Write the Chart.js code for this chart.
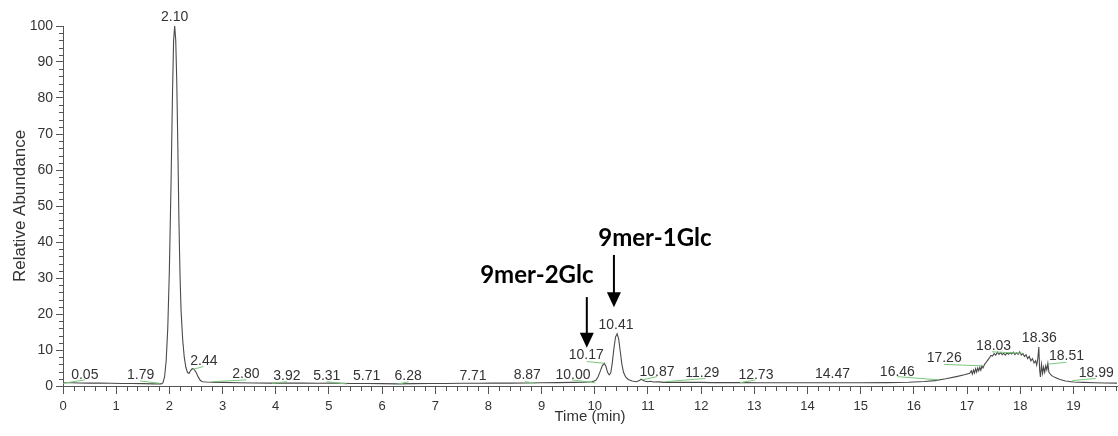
<!DOCTYPE html>
<html><head><meta charset="utf-8">
<script src="https://cdn.jsdelivr.net/npm/chart.js@4/dist/chart.umd.min.js"></script>
<style>html,body{margin:0;padding:0;background:#fff;} #wrap{width:1118px;height:436px;position:relative;}</style>
</head><body><div id="wrap"><canvas id="c" width="1118" height="436"></canvas></div>
<script>
// ---- data (time in min, relative abundance in %) ----
const times = [0.00,0.15,0.30,0.50,0.70,0.90,1.10,1.30,1.50,1.70,1.85,1.88,1.91,1.94,1.97,2.00,2.03,2.06,2.08,2.10,2.12,2.14,2.16,2.18,2.20,2.22,2.25,2.28,2.31,2.34,2.37,2.40,2.43,2.46,2.50,2.54,2.58,2.62,2.70,2.80,3.00,3.30,3.60,3.90,4.20,4.50,4.80,5.10,5.40,5.70,6.00,6.30,6.60,6.90,7.20,7.50,7.80,8.10,8.40,8.70,9.00,9.30,9.60,9.80,9.95,10.02,10.06,10.10,10.14,10.18,10.21,10.24,10.27,10.30,10.33,10.36,10.39,10.42,10.45,10.48,10.51,10.54,10.58,10.63,10.70,10.78,10.84,10.87,10.90,10.95,11.00,11.05,11.10,11.20,11.30,11.40,11.60,11.80,12.00,12.20,12.50,12.80,13.10,13.50,14.00,14.50,15.00,15.50,15.90,16.20,16.40,16.60,16.80,16.95,17.05,17.08,17.10,17.12,17.14,17.16,17.18,17.20,17.22,17.24,17.26,17.28,17.30,17.33,17.36,17.39,17.42,17.45,17.48,17.51,17.54,17.57,17.60,17.63,17.66,17.69,17.72,17.75,17.78,17.81,17.84,17.87,17.90,17.93,17.96,17.99,18.02,18.05,18.08,18.11,18.14,18.17,18.20,18.23,18.26,18.29,18.31,18.33,18.35,18.365,18.38,18.40,18.42,18.44,18.46,18.48,18.50,18.52,18.54,18.57,18.60,18.65,18.70,18.75,18.80,18.85,18.90,18.95,19.00,19.20,19.40,19.60,19.82];
const abundance = [0.9,0.9,0.85,0.8,0.8,0.75,0.7,0.7,0.65,0.6,0.6,0.9,2.5,7,16,32,55,82,96,100,96,84,66,46,31,21,13,8,5.2,3.8,3.5,4.3,4.8,4.7,3.9,2.6,1.6,1.2,1.1,1.05,1.0,0.9,0.85,0.8,0.85,0.8,0.75,0.8,0.7,0.7,0.65,0.6,0.65,0.7,0.7,0.75,0.75,0.8,0.8,0.85,0.9,0.95,1.0,1.05,1.2,1.6,2.5,4.0,5.6,6.3,5.4,3.8,3.1,3.6,6.5,10.5,13.6,14.5,13.0,9.5,6.0,3.8,2.5,1.8,1.4,1.2,1.5,1.9,1.6,1.3,1.2,1.3,1.1,1.15,1.0,1.05,1.0,1.0,1.0,0.95,0.95,0.95,0.9,0.9,0.9,0.9,0.9,0.95,1.05,1.25,1.5,2.0,2.6,3.1,3.5,4.2,3.3,4.4,3.6,4.8,3.9,5.0,4.2,5.2,4.4,5.6,5.0,6.0,6.6,7.2,7.8,8.5,8.3,9.0,8.6,9.4,8.8,9.3,8.7,9.1,8.6,9.2,8.8,9.3,8.9,9.4,8.7,9.2,8.8,9.5,8.6,9.0,8.2,8.7,7.6,8.2,7.0,7.6,6.4,7.0,5.8,7.5,10.8,4.5,2.5,6.0,3.5,5.2,3.8,5.6,4.5,6.3,3.8,3.2,2.8,2.4,2.1,1.8,1.6,1.4,1.3,1.2,1.1,1.0,0.9,0.85,0.8];

// peak retention-time labels and where they sit (time, abundance)
const peakLabels      = ['0.05','1.79','2.10','2.44','2.80','3.92','5.31','5.71','6.28','7.71','8.87','10.00','10.17','10.41','10.87','11.29','12.73','14.47','16.46','17.26','18.03','18.36','18.51','18.99'];
const peakLabelTimes  = [0.41,1.46,2.10,2.65,3.44,4.21,4.96,5.71,6.49,7.71,8.73,9.59,9.84,10.40,11.17,12.02,13.03,14.47,15.69,16.57,17.50,18.36,18.87,19.43];
const peakLabelLevels = [3.1,3.1,102.5,6.9,3.3,2.8,2.8,2.8,2.8,2.8,3.1,3.1,8.6,16.9,3.9,3.6,3.1,3.2,3.9,7.8,11.1,13.3,8.3,3.6];

// green integration baselines
const baseStartTimes  = [0.00,1.45,2.44,2.80,3.93,4.96,6.28,8.69,9.57,9.85,10.89,11.33,12.73,15.69,16.57,17.47,18.54,18.98];
const baseStartLevels = [0.75,1.4,4.6,1.2,0.75,1.2,0.45,1.2,1.7,6.8,1.7,1.2,0.9,2.6,6.0,9.5,6.1,1.5];
const baseEndTimes    = [0.41,1.82,2.64,3.45,4.21,5.34,6.50,8.90,10.01,10.18,11.17,12.08,13.02,16.47,17.28,18.04,18.87,19.42];
const baseEndLevels   = [1.7,0.75,5.4,1.7,1.2,0.55,1.2,0.75,0.9,6.3,2.6,2.1,1.7,1.7,5.6,9.1,6.6,2.1];

// compound annotations
const annotationTexts  = ['9mer-1Glc','9mer-2Glc'];
const annotationTimes  = [11.13, 8.91];
const annotationLevels = [41.1, 30.8];
const arrowTimes       = [10.36, 9.85];
const arrowTopLevels   = [36.4, 24.7];
const arrowTipLevels   = [21.9, 10.6];

const xMin = 0, xMax = 19.82, yMin = 0, yMax = 100;

// ---- chart ----
const axisColor = '#555';
const textColor = '#333';

const datasets = [{
  data: times.map((t,i)=>({x:t, y:abundance[i]})),
  borderColor: '#4a4a4a', borderWidth: 1.1, pointRadius: 0, tension: 0, fill: false, clip: false, order: 1
}];
baseStartTimes.forEach((t,i)=>{
  datasets.push({
    data: [{x:t, y:baseStartLevels[i]}, {x:baseEndTimes[i], y:baseEndLevels[i]}],
    borderColor: '#79c979', borderWidth: 1, pointRadius: 0, tension: 0, fill: false, order: 0
  });
});

const minorTicks = {
  id: 'minorTicks',
  afterDraw(chart){
    const {ctx, scales:{x, y}} = chart;
    ctx.save();
    ctx.strokeStyle = axisColor; ctx.lineWidth = 1;
    ctx.beginPath();
    for (let k = 0; k * 0.2 <= xMax + 1e-9; k++) {
      if (k % 5 === 0) continue;
      const px = Math.round(x.getPixelForValue(k * 0.2)) + 0.5;
      ctx.moveTo(px, y.bottom); ctx.lineTo(px, y.bottom + 5);
    }
    for (let k = 0; k * 2 <= yMax; k++) {
      if ((k * 2) % 10 === 0) continue;
      const py = Math.round(y.getPixelForValue(k * 2)) + 0.5;
      ctx.moveTo(x.left - 4, py); ctx.lineTo(x.left, py);
    }
    ctx.stroke();
    ctx.restore();
  }
};

const peakText = {
  id: 'peakText',
  afterDatasetsDraw(chart){
    const {ctx, scales:{x, y}} = chart;
    ctx.save();
    ctx.fillStyle = textColor;
    ctx.font = '14px "Liberation Sans", Arial, sans-serif';
    ctx.textAlign = 'center'; ctx.textBaseline = 'middle';
    peakLabels.forEach((s,i)=>{
      ctx.fillText(s, x.getPixelForValue(peakLabelTimes[i]), y.getPixelForValue(peakLabelLevels[i]));
    });
    // annotations
    ctx.fillStyle = '#000';
    ctx.font = 'bold 24px Lato, "Open Sans", sans-serif';
    annotationTexts.forEach((s,i)=>{
      ctx.fillText(s, x.getPixelForValue(annotationTimes[i]), y.getPixelForValue(annotationLevels[i]));
    });
    ctx.strokeStyle = '#000'; ctx.lineWidth = 2;
    arrowTimes.forEach((t,i)=>{
      const px = x.getPixelForValue(t);
      const top = y.getPixelForValue(arrowTopLevels[i]);
      const tip = y.getPixelForValue(arrowTipLevels[i]);
      const headH = 15, headW = 7;
      ctx.beginPath(); ctx.moveTo(px, top); ctx.lineTo(px, tip - headH + 1); ctx.stroke();
      ctx.beginPath(); ctx.moveTo(px - headW, tip - headH); ctx.lineTo(px + headW, tip - headH); ctx.lineTo(px, tip); ctx.closePath(); ctx.fill();
    });
    ctx.restore();
  }
};

new Chart(document.getElementById('c'), {
  type: 'line',
  data: { datasets },
  options: {
    responsive: false, animation: false, events: [],
    layout: { padding: { left: 0, top: 26, right: 1, bottom: 0 } },
    plugins: { legend: { display: false }, tooltip: { enabled: false } },
    scales: {
      x: {
        type: 'linear', min: xMin, max: xMax,
        afterFit(s){ s.height = 50; },
        grid: { display: true, drawOnChartArea: false, drawTicks: true, tickLength: 8, color: axisColor, lineWidth: 1 },
        border: { display: true, color: axisColor, width: 1 },
        ticks: { stepSize: 1, includeBounds: false, autoSkip: false, maxRotation: 0, padding: 5, color: textColor,
                 font: { family: '"Liberation Sans", Arial, sans-serif', size: 13 } },
        title: { display: true, text: 'Time (min)', color: textColor, padding: { top: 0, bottom: 10 },
                 font: { family: '"Liberation Sans", Arial, sans-serif', size: 15 } }
      },
      y: {
        type: 'linear', min: yMin, max: yMax,
        afterFit(s){ s.width = 63; },
        grid: { display: true, drawOnChartArea: false, drawTicks: true, tickLength: 7, color: axisColor, lineWidth: 1 },
        border: { display: true, color: axisColor, width: 1 },
        ticks: { stepSize: 10, padding: 3, color: textColor,
                 font: { family: '"Liberation Sans", Arial, sans-serif', size: 14 } },
        title: { display: true, text: 'Relative Abundance', color: textColor, padding: { top: 10, bottom: 0 },
                 font: { family: '"Liberation Sans", Arial, sans-serif', size: 17 } }
      }
    }
  },
  plugins: [minorTicks, peakText]
});
</script>
</body></html>
